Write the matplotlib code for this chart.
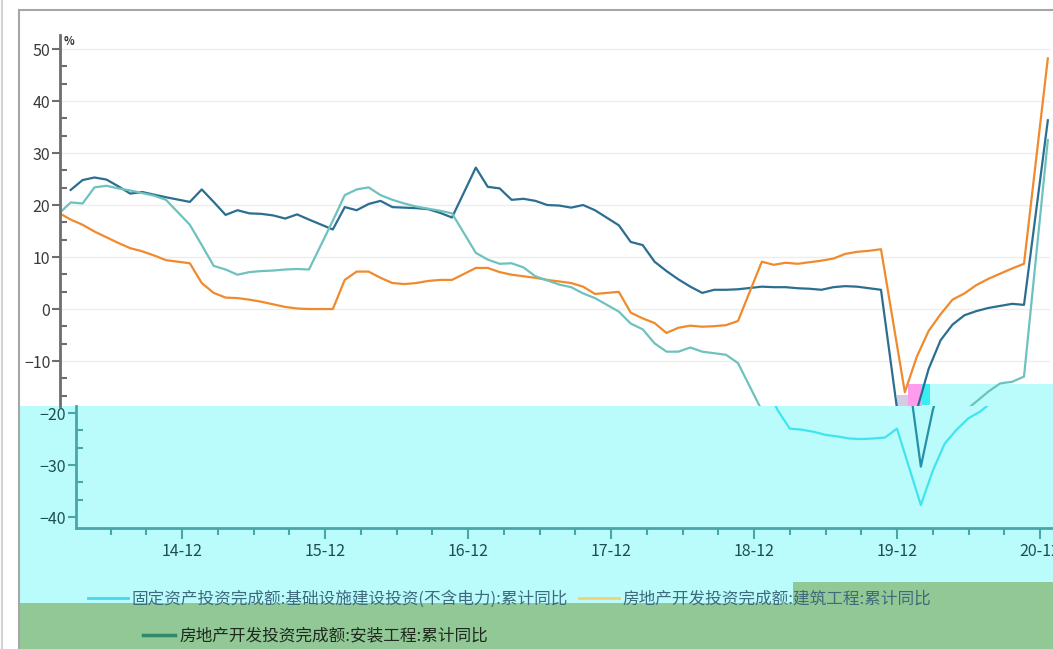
import matplotlib
matplotlib.use('Agg')
import matplotlib.pyplot as plt
from matplotlib.lines import Line2D
from matplotlib.patches import Rectangle
from matplotlib.ticker import MultipleLocator, FixedLocator
import numpy as np
import pandas as pd

# monthly cumulative data, Jan is merged into Feb so there is no January point
months = [p for p in pd.period_range('2014-03', '2021-02', freq='M') if p.month != 1]

# 固定资产投资完成额:基础设施建设投资(不含电力):累计同比
infra = [np.nan, 22.9, 24.8, 25.3, 24.9, 23.6, 22.2, 22.5, 22.0, 21.5,   # 2014
         20.6, 23.0, 20.6, 18.1, 19.0, 18.4, 18.3, 18.0, 17.4, 18.2, 17.2,  # 2015
         15.3, 19.6, 19.0, 20.2, 20.8, 19.6, 19.5, 19.4, 19.2, 18.5, 17.6,  # 2016
         27.2, 23.5, 23.2, 21.0, 21.2, 20.8, 20.0, 19.9, 19.5, 20.0, 19.0,  # 2017
         16.1, 12.9, 12.3, 9.1, 7.3, 5.7, 4.3, 3.1, 3.7, 3.7, 3.8,          # 2018
         4.3, 4.2, 4.2, 4.0, 3.9, 3.7, 4.2, 4.4, 4.3, 4.0, 3.7,             # 2019
         -30.3, -19.5, -11.5, -6.0, -3.0, -1.2, -0.4, 0.2, 0.6, 1.0, 0.8,   # 2020
         36.3]                                                               # 2021

# 房地产开发投资完成额:建筑工程:累计同比
building = [18.5, 17.2, 16.2, 14.9, 13.8, 12.7, 11.7, 11.1, 10.3, 9.4,
            8.8, 5.0, 3.1, 2.2, 2.1, 1.8, 1.4, 0.9, 0.4, 0.1, 0.0,
            0.0, 5.6, 7.2, 7.2, 6.0, 5.0, 4.8, 5.0, 5.4, 5.6, 5.6,
            7.9, 7.9, 7.1, 6.6, 6.3, 6.0, 5.6, 5.3, 5.0, 4.3, 2.9,
            3.3, -0.7, -1.8, -2.7, -4.6, -3.6, -3.2, -3.4, -3.3, -3.1, -2.3,
            9.1, 8.5, 8.9, 8.7, 9.0, 9.3, 9.7, 10.6, 11.0, 11.2, 11.5,
            -16.0, -9.2, -4.2, -1.0, 1.8, 3.0, 4.6, 5.8, 6.8, 7.8, 8.7,
            48.2]

# 房地产开发投资完成额:安装工程:累计同比
install = [18.3, 20.5, 20.3, 23.4, 23.7, 23.2, 22.8, 22.3, 21.8, 21.0,
           16.2, 12.3, 8.3, 7.6, 6.6, 7.1, 7.3, 7.4, 7.6, 7.7, 7.6,
           17.0, 21.9, 23.0, 23.4, 21.9, 21.0, 20.3, 19.7, 19.3, 18.9, 18.4,
           10.8, 9.5, 8.7, 8.8, 8.0, 6.3, 5.5, 4.7, 4.2, 3.0, 2.1,
           -0.5, -2.8, -3.9, -6.6, -8.2, -8.2, -7.4, -8.2, -8.5, -8.8, -10.4,
           -19.5, -23.0, -23.2, -23.6, -24.2, -24.5, -24.9, -25.0, -24.9, -24.7, -23.0,
           -37.7, -31.1, -25.9, -23.2, -21.0, -19.7, -17.8, -15.9, -14.3, -14.0, -13.0,
           32.5]

labels = ['固定资产投资完成额:基础设施建设投资(不含电力):累计同比',
          '房地产开发投资完成额:建筑工程:累计同比',
          '房地产开发投资完成额:安装工程:累计同比']
tick_years = ['14-12', '15-12', '16-12', '17-12', '18-12', '19-12', '20-12']

W, H = 1053, 649


def px_box(x0, y0, x1, y1):
    return [x0 / W, 1 - y1 / H, (x1 - x0) / W, (y1 - y0) / H]


def fig_rect(fig, x0, y0, x1, y1, color):
    r = Rectangle((x0 / W, 1 - y1 / H), (x1 - x0) / W, (y1 - y0) / H,
                  transform=fig.transFigure, facecolor=color, edgecolor='none', zorder=-5)
    fig.add_artist(r)


def style_y(ax, color, label_color):
    ax.yaxis.set_major_locator(MultipleLocator(10))
    ax.yaxis.set_minor_locator(MultipleLocator(10 / 3))
    ax.tick_params(axis='y', which='major', direction='out', length=6, width=1.5,
                   color=color, labelcolor=label_color, labelsize=11.5, pad=1)
    ax.tick_params(axis='y', which='minor', direction='in', length=5, width=1.5, color=color)
    ax.spines['left'].set_color(color)
    ax.spines['left'].set_linewidth(2)
    for s in ['top', 'right']:
        ax.spines[s].set_visible(False)


def main():
    plt.rcParams['font.family'] = ['Noto Sans CJK SC', 'DejaVu Sans']
    fig = plt.figure(figsize=(W / 100, H / 100), dpi=100)

    x = np.array([(p.year - 2014) * 12 + p.month - 12 for p in months])
    px_per_month = 143 / 12
    xlim = ((60 - 166) / px_per_month, (1050 - 166) / px_per_month)

    # background glitch blocks
    fig_rect(fig, 20, 406, W, 603, '#BAFCFC')
    fig_rect(fig, 930, 384, W, 406, '#BAFCFC')
    fig_rect(fig, 897, 395, 908, 406, '#D6CCE2')
    fig_rect(fig, 908, 384, 922, 406, '#FF9CEE')
    fig_rect(fig, 922, 384, 930, 405, '#38EEF2')
    fig_rect(fig, 20, 603, W, H, '#92C896')
    fig_rect(fig, 793, 582, W, 603, '#92C896')

    fig.add_artist(Line2D([1.5 / W, 1.5 / W], [0, 1], transform=fig.transFigure,
                          color='#D2D2D2', lw=1.5))
    fig.add_artist(Line2D([18.5 / W, 18.5 / W], [0, 1 - 10 / H], transform=fig.transFigure,
                          color='#A6A6A6', lw=1.5))
    fig.add_artist(Line2D([18.5 / W, 1], [1 - 10 / H, 1 - 10 / H], transform=fig.transFigure,
                          color='#A6A6A6', lw=1.5))

    # upper part of the chart
    ax = fig.add_axes(px_box(60, 35, 1050, 406))
    ax.set_facecolor('none')
    ax.plot(x, infra, color='#2C6E91', lw=1.6)
    ax.plot(x, building, color='#F08A2C', lw=1.6)
    ax.plot(x, install, color='#6EC2BE', lw=1.6)
    ax.set_xlim(*xlim)
    ax.set_ylim(-18.65, 52.7)
    style_y(ax, '#6E6E6E', '#3A3A3A')
    ax.spines['bottom'].set_visible(False)
    ax.set_xticks([])
    ax.grid(axis='y', color='#EDEDED', lw=1)
    ax.set_axisbelow(True)
    ax.text(0.004, 1.0, '%', transform=ax.transAxes, va='top', ha='left',
            fontsize=8, fontweight='bold', color='#333333')

    # lower part, shifted right like the screenshot
    ax2 = fig.add_axes(px_box(76, 406, 1066, 528))
    ax2.set_facecolor('none')
    ax2.plot(x, infra, color='#2590A8', lw=1.6)
    ax2.plot(x, building, color='#F08A2C', lw=1.6)
    ax2.plot(x, install, color='#40E4EE', lw=1.6)
    ax2.set_xlim(*xlim)
    ax2.set_ylim(-42.1, -18.65)
    style_y(ax2, '#4AA6A6', '#1E4E50')
    ax2.spines['bottom'].set_color('#4AA6A6')
    ax2.spines['bottom'].set_linewidth(2)
    ax2.xaxis.set_major_locator(FixedLocator([12 * i for i in range(len(tick_years))]))
    ax2.xaxis.set_minor_locator(MultipleLocator(3))
    ax2.set_xticklabels(tick_years)
    ax2.tick_params(axis='x', which='major', direction='out', length=8, width=1.5,
                    color='#4AA6A6', labelcolor='#1E4E50', labelsize=11.5, pad=3)
    ax2.tick_params(axis='x', which='minor', direction='out', length=5, width=1.5,
                    color='#4AA6A6')

    # legend rows
    h1 = Line2D([], [], color='#45D8EC', lw=2)
    h2 = Line2D([], [], color='#F3D36A', lw=2)
    h3 = Line2D([], [], color='#2E8A6A', lw=2.5)
    leg1 = fig.legend([h1, h2], labels[:2], loc='center left',
                      bbox_to_anchor=(88 / W, 1 - 599 / H), ncol=2, frameon=False,
                      fontsize=12, handlelength=2.4, handletextpad=0.2,
                      columnspacing=0.7, borderpad=0, borderaxespad=0)
    for t in leg1.get_texts():
        t.set_color('#3E6A7C')
    leg2 = fig.legend([h3], labels[2:], loc='center left',
                      bbox_to_anchor=(143 / W, 1 - 636 / H), frameon=False,
                      fontsize=12, handlelength=1.9, handletextpad=0.3,
                      borderpad=0, borderaxespad=0)
    for t in leg2.get_texts():
        t.set_color('#1E2A1E')

    fig.savefig('out.png', dpi=100)


if __name__ == "__main__":
    main()
